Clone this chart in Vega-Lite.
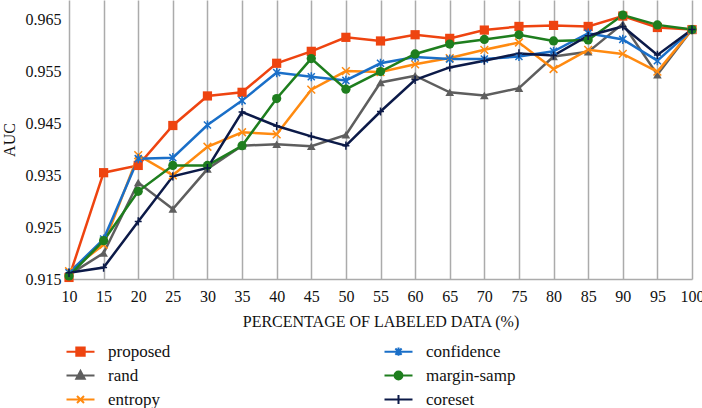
{
  "$schema": "https://vega.github.io/schema/vega-lite/v6.json",
  "width": 623,
  "height": 279,
  "autosize": "none",
  "padding": {"left": 69, "top": 0, "right": 10, "bottom": 129},
  "background": "white",
  "config": {
    "view": {"stroke": null},
    "font": "Liberation Serif",
    "axis": {"labelColor": "#111", "titleColor": "#111", "titleFontWeight": "normal", "labelFont": "Liberation Serif", "titleFont": "Liberation Serif"}
  },
  "datasets": {
    "auc": [
      {"pct":10,"method":"proposed","auc":0.9153},{"pct":15,"method":"proposed","auc":0.9355},{"pct":20,"method":"proposed","auc":0.9369},{"pct":25,"method":"proposed","auc":0.9446},{"pct":30,"method":"proposed","auc":0.9503},{"pct":35,"method":"proposed","auc":0.951},{"pct":40,"method":"proposed","auc":0.9566},{"pct":45,"method":"proposed","auc":0.9589},{"pct":50,"method":"proposed","auc":0.9616},{"pct":55,"method":"proposed","auc":0.9609},{"pct":60,"method":"proposed","auc":0.9621},{"pct":65,"method":"proposed","auc":0.9614},{"pct":70,"method":"proposed","auc":0.963},{"pct":75,"method":"proposed","auc":0.9637},{"pct":80,"method":"proposed","auc":0.9639},{"pct":85,"method":"proposed","auc":0.9637},{"pct":90,"method":"proposed","auc":0.9657},{"pct":95,"method":"proposed","auc":0.9635},{"pct":100,"method":"proposed","auc":0.9631},
      {"pct":10,"method":"rand","auc":0.9158},{"pct":15,"method":"rand","auc":0.92},{"pct":20,"method":"rand","auc":0.9336},{"pct":25,"method":"rand","auc":0.9285},{"pct":30,"method":"rand","auc":0.9362},{"pct":35,"method":"rand","auc":0.9407},{"pct":40,"method":"rand","auc":0.941},{"pct":45,"method":"rand","auc":0.9406},{"pct":50,"method":"rand","auc":0.9428},{"pct":55,"method":"rand","auc":0.9529},{"pct":60,"method":"rand","auc":0.9542},{"pct":65,"method":"rand","auc":0.951},{"pct":70,"method":"rand","auc":0.9504},{"pct":75,"method":"rand","auc":0.9518},{"pct":80,"method":"rand","auc":0.9579},{"pct":85,"method":"rand","auc":0.9588},{"pct":90,"method":"rand","auc":0.9642},{"pct":95,"method":"rand","auc":0.9544},{"pct":100,"method":"rand","auc":0.9631},
      {"pct":10,"method":"entropy","auc":0.9165},{"pct":15,"method":"entropy","auc":0.9216},{"pct":20,"method":"entropy","auc":0.9389},{"pct":25,"method":"entropy","auc":0.935},{"pct":30,"method":"entropy","auc":0.9405},{"pct":35,"method":"entropy","auc":0.9433},{"pct":40,"method":"entropy","auc":0.9429},{"pct":45,"method":"entropy","auc":0.9515},{"pct":50,"method":"entropy","auc":0.9551},{"pct":55,"method":"entropy","auc":0.9549},{"pct":60,"method":"entropy","auc":0.9564},{"pct":65,"method":"entropy","auc":0.9576},{"pct":70,"method":"entropy","auc":0.9592},{"pct":75,"method":"entropy","auc":0.9606},{"pct":80,"method":"entropy","auc":0.9555},{"pct":85,"method":"entropy","auc":0.9592},{"pct":90,"method":"entropy","auc":0.9584},{"pct":95,"method":"entropy","auc":0.955},{"pct":100,"method":"entropy","auc":0.9631},
      {"pct":10,"method":"confidence","auc":0.9162},{"pct":15,"method":"confidence","auc":0.9227},{"pct":20,"method":"confidence","auc":0.9382},{"pct":25,"method":"confidence","auc":0.9384},{"pct":30,"method":"confidence","auc":0.9447},{"pct":35,"method":"confidence","auc":0.9494},{"pct":40,"method":"confidence","auc":0.9548},{"pct":45,"method":"confidence","auc":0.954},{"pct":50,"method":"confidence","auc":0.9533},{"pct":55,"method":"confidence","auc":0.9566},{"pct":60,"method":"confidence","auc":0.9578},{"pct":65,"method":"confidence","auc":0.9574},{"pct":70,"method":"confidence","auc":0.9574},{"pct":75,"method":"confidence","auc":0.9579},{"pct":80,"method":"confidence","auc":0.9589},{"pct":85,"method":"confidence","auc":0.9624},{"pct":90,"method":"confidence","auc":0.9612},{"pct":95,"method":"confidence","auc":0.9571},{"pct":100,"method":"confidence","auc":0.9631},
      {"pct":10,"method":"margin-samp","auc":0.9156},{"pct":15,"method":"margin-samp","auc":0.9224},{"pct":20,"method":"margin-samp","auc":0.9319},{"pct":25,"method":"margin-samp","auc":0.9369},{"pct":30,"method":"margin-samp","auc":0.9369},{"pct":35,"method":"margin-samp","auc":0.9407},{"pct":40,"method":"margin-samp","auc":0.9498},{"pct":45,"method":"margin-samp","auc":0.9575},{"pct":50,"method":"margin-samp","auc":0.9516},{"pct":55,"method":"margin-samp","auc":0.955},{"pct":60,"method":"margin-samp","auc":0.9584},{"pct":65,"method":"margin-samp","auc":0.9603},{"pct":70,"method":"margin-samp","auc":0.9612},{"pct":75,"method":"margin-samp","auc":0.9621},{"pct":80,"method":"margin-samp","auc":0.9609},{"pct":85,"method":"margin-samp","auc":0.9611},{"pct":90,"method":"margin-samp","auc":0.9659},{"pct":95,"method":"margin-samp","auc":0.964},{"pct":100,"method":"margin-samp","auc":0.9631},
      {"pct":10,"method":"coreset","auc":0.9162},{"pct":15,"method":"coreset","auc":0.9172},{"pct":20,"method":"coreset","auc":0.9261},{"pct":25,"method":"coreset","auc":0.9348},{"pct":30,"method":"coreset","auc":0.9364},{"pct":35,"method":"coreset","auc":0.9472},{"pct":40,"method":"coreset","auc":0.9445},{"pct":45,"method":"coreset","auc":0.9425},{"pct":50,"method":"coreset","auc":0.9407},{"pct":55,"method":"coreset","auc":0.9473},{"pct":60,"method":"coreset","auc":0.9534},{"pct":65,"method":"coreset","auc":0.9558},{"pct":70,"method":"coreset","auc":0.9571},{"pct":75,"method":"coreset","auc":0.9585},{"pct":80,"method":"coreset","auc":0.9581},{"pct":85,"method":"coreset","auc":0.9619},{"pct":90,"method":"coreset","auc":0.9637},{"pct":95,"method":"coreset","auc":0.9582},{"pct":100,"method":"coreset","auc":0.9631}
    ]
  },
  "data": {"name": "auc"},
  "encoding": {
    "x": {
      "field": "pct", "type": "quantitative",
      "scale": {"domain": [10, 100], "nice": false, "zero": false},
      "axis": {
        "title": "PERCENTAGE OF LABELED DATA (%)",
        "values": [10,15,20,25,30,35,40,45,50,55,60,65,70,75,80,85,90,95,100],
        "format": "d", "ticks": false, "labelPadding": 9, "labelFontSize": 16,
        "titleFontSize": 16, "titlePadding": 9,
        "grid": true, "gridColor": "#ABABAB", "gridWidth": 1.5,
        "domainColor": "#ABABAB", "domainWidth": 1.5, "labelFlush": false
      }
    },
    "y": {
      "field": "auc", "type": "quantitative",
      "scale": {"domain": [0.915, 0.9688], "nice": false, "zero": false},
      "axis": {
        "title": "AUC", "values": [0.915, 0.925, 0.935, 0.945, 0.955, 0.965],
        "format": ".3f", "ticks": false, "domain": false, "grid": false,
        "labelPadding": 8, "labelFontSize": 16, "titleFontSize": 16, "titlePadding": 8,
        "labelFlush": false
      }
    }
  },
  "layer": [
    {
      "mark": {"type": "line", "strokeWidth": 2.5},
      "encoding": {
        "color": {
          "field": "method", "type": "nominal",
          "scale": {
            "domain": ["proposed", "rand", "entropy", "confidence", "margin-samp", "coreset"],
            "range": ["#EE4410", "#5E5E5E", "#FF8A10", "#1A6FC8", "#1E7E1E", "#0C1A48"]
          },
          "legend": {
            "title": null, "orient": "none", "legendX": 3, "legendY": 343,
            "direction": "vertical", "columns": 2, "columnPadding": 209, "rowPadding": 6,
            "padding": 0, "symbolSize": 196, "symbolStrokeWidth": 2, "labelOffset": 19,
            "labelFont": "Liberation Serif", "labelFontSize": 17, "labelColor": "#111",
            "labelLimit": 200,
            "encode": {
              "symbols": {
                "update": {
                  "shape": {"signal": "datum.value === 'proposed' ? 'M-2,0L2,0M-0.6,-0.6L0.6,-0.6L0.6,0.6L-0.6,0.6Z' : datum.value === 'rand' ? 'M-2,0L2,0M0,-0.65L0.6,0.45L-0.6,0.45Z' : datum.value === 'entropy' ? 'M-2,0L2,0M-0.5,-0.5L0.5,0.5M-0.5,0.5L0.5,-0.5' : datum.value === 'confidence' ? 'M-2,0L2,0M-0.45,-0.45L0.45,0.45M-0.45,0.45L0.45,-0.45M0,-0.6L0,0.6' : datum.value === 'margin-samp' ? 'M-2,0L2,0M0.56,0A0.56,0.56 0 1,1 -0.56,0A0.56,0.56 0 1,1 0.56,0Z' : 'M-2,0L2,0M0,-0.65L0,0.65'"},
                  "fill": {"signal": "scale('color', datum.value)"},
                  "strokeWidth": {"value": 2}
                }
              }
            }
          }
        }
      }
    },
    {"transform": [{"filter": "datum.method === 'proposed'"}], "mark": {"type": "point", "shape": "square", "size": 85, "filled": true, "color": "#EE4410", "opacity": 1}},
    {"transform": [{"filter": "datum.method === 'rand'"}], "mark": {"type": "point", "shape": "triangle-up", "size": 75, "filled": true, "color": "#5E5E5E", "opacity": 1}},
    {"transform": [{"filter": "datum.method === 'entropy'"}], "mark": {"type": "point", "shape": "M-1,-1L1,1M-1,1L1,-1", "size": 60, "filled": false, "strokeWidth": 1.5, "color": "#FF8A10", "opacity": 1}},
    {"transform": [{"filter": "datum.method === 'confidence'"}], "mark": {"type": "point", "shape": "M-1,-1L1,1M-1,1L1,-1M0,-1.3L0,1.3", "size": 50, "filled": false, "strokeWidth": 1.5, "color": "#1A6FC8", "opacity": 1}},
    {"transform": [{"filter": "datum.method === 'margin-samp'"}], "mark": {"type": "point", "shape": "circle", "size": 85, "filled": true, "color": "#1E7E1E", "opacity": 1}},
    {"transform": [{"filter": "datum.method === 'coreset'"}], "mark": {"type": "point", "shape": "M-1.1,0L1.1,0M0,-1.3L0,1.3", "size": 40, "filled": false, "strokeWidth": 1.5, "color": "#0C1A48", "opacity": 1}}
  ]
}
